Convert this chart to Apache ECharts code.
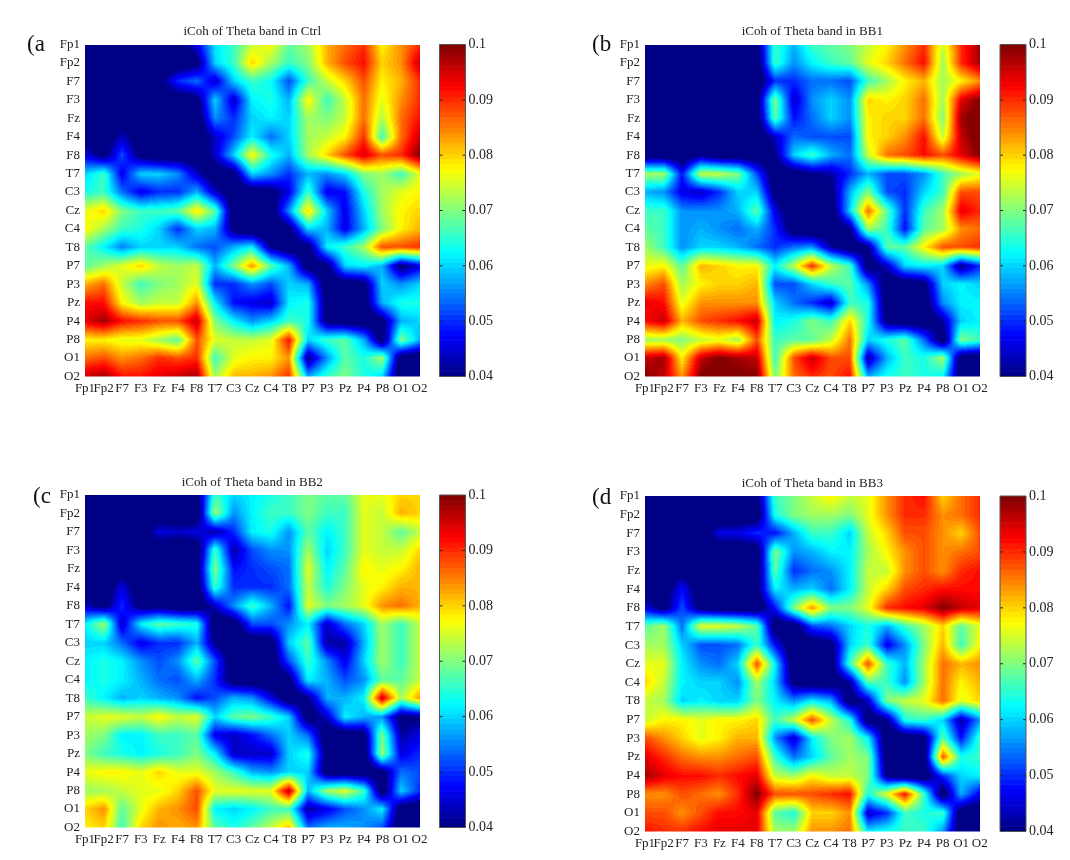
<!DOCTYPE html>
<html><head><meta charset="utf-8">
<style>html,body{margin:0;padding:0;background:#fff}#c{width:1070px;height:860px;filter:blur(0.5px)}</style>
<script src="https://cdn.jsdelivr.net/npm/echarts@6/dist/echarts.min.js"></script>
</head><body><div id="c"></div>
<script>
const channels = ['Fp1','Fp2','F7','F3','Fz','F4','F8','T7','C3','Cz','C4','T8','P7','P3','Pz','P4','P8','O1','O2'];
const colorbarTicks = [0.04,0.05,0.06,0.07,0.08,0.09,0.1];
// iCoh values in thousandths; rows Fp1..O2, columns Fp1..O2
const ctrl = [
[35,35,35,35,35,36,46,61,66,74,77,68,72,82,86,90,78,84,90],
[35,35,35,35,35,35,38,60,66,80,72,66,70,82,88,92,80,84,96],
[35,35,35,35,38,50,54,44,60,66,63,52,66,74,80,88,78,82,90],
[35,35,35,35,35,35,38,60,44,62,64,58,78,66,74,86,76,84,90],
[35,35,35,35,35,35,35,56,50,60,62,60,72,70,74,86,73,86,92],
[35,35,44,35,35,35,35,44,52,62,54,60,72,74,78,90,66,86,96],
[46,38,52,38,35,36,35,44,60,78,64,58,72,80,88,95,88,90,100],
[60,66,46,60,60,56,44,35,38,60,56,50,58,56,60,70,72,66,76],
[64,66,54,46,50,50,58,44,35,36,38,46,66,46,48,64,72,76,78],
[76,80,70,66,66,68,79,68,35,33,36,56,80,60,46,60,72,78,80],
[78,72,66,64,60,50,60,58,38,33,33,38,60,58,46,58,70,78,82],
[68,62,55,60,60,60,54,52,58,62,40,35,38,62,66,72,88,88,90],
[68,72,76,80,74,72,74,58,70,84,68,58,36,38,60,62,58,38,46],
[82,86,74,66,70,72,76,50,50,56,52,60,58,35,36,38,60,56,60],
[92,92,78,72,74,74,84,62,48,46,44,62,64,38,35,36,58,64,64],
[94,98,92,90,88,88,96,70,62,56,60,66,64,38,36,35,38,58,60],
[78,78,76,76,72,68,88,76,74,74,76,92,60,66,68,58,36,70,58],
[86,88,84,86,90,88,90,66,76,78,78,84,40,56,68,64,72,36,35],
[96,98,92,92,94,96,98,72,82,82,84,90,58,66,70,64,60,34,34]];
const bb1 = [
[35,35,35,35,35,35,38,66,58,66,68,70,74,78,84,90,74,90,98],
[35,35,35,35,35,35,35,66,56,62,66,68,76,80,86,92,72,90,98],
[35,35,35,35,35,35,35,50,50,54,54,52,66,72,78,82,72,78,84],
[35,35,35,35,35,35,38,70,44,56,60,56,80,78,80,86,72,94,100],
[35,35,35,35,35,35,35,68,48,54,60,56,78,80,80,86,70,98,102],
[35,35,35,35,35,35,35,44,54,52,52,52,78,80,84,92,74,96,102],
[35,35,35,40,35,35,35,40,60,66,58,54,74,86,88,92,88,94,100],
[72,72,48,74,74,70,52,35,36,40,42,50,58,52,52,56,66,72,76],
[58,56,46,44,50,60,60,38,35,35,38,58,70,52,50,60,66,88,88],
[66,66,56,56,56,58,68,46,35,33,35,60,86,68,50,66,72,94,90],
[68,66,56,58,56,54,58,50,36,33,35,40,72,66,48,68,72,84,86],
[72,66,56,60,60,58,54,50,54,56,42,35,40,68,68,78,88,88,90],
[76,78,68,82,80,78,78,62,74,90,74,66,36,44,60,62,60,40,50],
[84,88,72,78,80,80,82,52,52,60,66,68,56,35,35,38,60,62,60],
[94,92,76,84,84,84,84,60,54,50,44,66,64,36,35,35,56,62,62],
[92,96,82,88,90,92,96,62,64,70,66,80,64,38,35,35,42,60,62],
[72,72,70,74,76,72,88,66,68,68,74,86,60,64,68,54,35,70,66],
[96,98,78,96,100,98,96,66,88,96,88,88,42,58,66,64,72,36,35],
[100,96,84,100,102,100,100,70,86,90,88,92,58,64,66,64,62,36,35]];
const bb2 = [
[35,35,35,35,35,35,38,66,60,62,64,66,70,68,68,76,76,80,80],
[35,35,35,35,35,35,35,72,56,62,66,66,70,66,66,76,74,82,80],
[35,35,35,35,46,44,46,42,50,62,64,56,68,62,66,76,74,68,74],
[35,35,35,35,35,35,35,66,42,52,56,56,72,60,66,76,74,74,80],
[35,35,36,35,35,35,38,70,48,50,52,54,76,62,68,78,76,78,82],
[35,35,46,35,35,35,35,66,50,50,50,54,74,64,70,76,78,82,82],
[44,38,50,38,38,35,35,44,56,66,58,48,76,70,72,76,84,86,82],
[62,72,44,62,68,66,64,35,36,52,52,56,62,44,54,60,72,66,74],
[60,60,54,46,50,50,58,40,35,35,36,60,68,42,42,58,72,66,74],
[62,64,62,56,52,56,68,52,35,33,36,52,66,56,46,60,72,66,74],
[62,64,62,58,54,52,58,50,36,35,35,38,62,58,52,56,68,68,74],
[66,62,58,60,58,56,48,52,58,56,46,35,40,58,58,62,96,72,84],
[74,76,76,74,78,74,76,60,68,70,66,60,36,44,62,58,56,38,40],
[72,70,62,62,66,66,68,46,44,48,54,60,54,35,35,38,70,42,46],
[70,66,64,62,64,66,70,62,44,44,44,60,64,38,35,35,72,46,50],
[76,78,78,76,80,76,76,72,66,58,56,60,60,36,35,35,38,54,52],
[72,72,74,76,76,80,88,76,76,76,76,97,58,72,76,66,35,60,50],
[80,84,68,76,82,84,88,62,60,62,66,66,42,46,52,56,62,36,35],
[78,80,66,80,84,82,84,68,64,68,74,82,54,58,58,56,52,35,35]];
const bb3 = [
[35,35,35,35,35,35,38,66,70,74,78,74,76,84,90,92,80,86,90],
[35,35,35,35,35,35,35,64,70,72,72,70,76,84,90,90,84,86,90],
[35,35,35,35,46,46,50,48,58,66,66,60,74,80,88,88,84,80,88],
[35,35,35,35,35,35,35,70,56,58,62,62,72,78,84,88,84,86,88],
[35,35,38,35,35,35,36,68,50,54,56,62,74,74,84,88,84,90,92],
[36,36,48,35,35,35,38,62,58,60,54,62,74,80,88,90,92,92,92],
[46,38,52,38,36,35,35,48,70,84,70,70,76,90,92,94,100,96,94],
[68,72,54,76,76,74,68,35,36,52,54,60,64,58,66,72,80,68,76],
[72,72,60,52,52,54,66,48,35,35,38,60,66,46,56,70,82,66,78],
[76,76,62,56,54,60,88,62,35,33,36,66,88,66,58,72,86,82,84],
[80,74,62,60,60,56,72,60,38,35,35,42,68,66,56,72,86,78,82],
[74,72,60,62,60,60,70,62,56,62,58,36,44,70,74,76,86,76,80],
[74,78,78,76,78,78,80,66,74,88,74,64,36,40,64,66,60,42,56],
[88,84,80,76,78,82,82,56,44,62,70,72,62,35,35,38,68,48,66],
[94,90,86,84,84,86,88,66,54,60,68,72,70,36,35,36,88,64,66],
[98,94,92,92,90,92,94,74,72,78,74,74,70,40,35,35,50,60,62],
[84,84,88,86,84,90,100,88,88,88,90,92,64,76,92,66,35,58,46],
[88,88,84,88,92,92,94,68,64,80,80,84,44,50,66,64,66,35,35],
[92,90,90,92,94,94,94,72,72,84,84,86,62,64,66,66,56,36,35]];

const panels = [
 {title:'iCoh of Theta band in Ctrl', tag:'(a', values:ctrl, left:85,  top:44.5, w:334.5, h:332, tagX:27,  tagY:33, titleTop:25, cbLeft:439.5},
 {title:'iCoh of Theta band in BB1',  tag:'(b', values:bb1,  left:645, top:44.5, w:334.7, h:332, tagX:592, tagY:33, titleTop:25, cbLeft:1000},
 {title:'iCoh of Theta band in BB2',  tag:'(c', values:bb2,  left:85,  top:495,  w:334.5, h:332.5, tagX:33,  tagY:485, titleTop:476, cbLeft:439.5},
 {title:'iCoh of Theta band in BB3',  tag:'(d', values:bb3,  left:645, top:496,  w:334.7, h:335.5, tagX:592, tagY:486, titleTop:477, cbLeft:1000}
];

const FONT = '"Liberation Serif","Times New Roman",serif';
const INK = '#222';
const VMIN = 40, VMAX = 100;
function jet(t){ // t in 0..1, MATLAB jet
  const f = x => Math.max(0, Math.min(1, x));
  const r = f(Math.min(4*t-1.5, -4*t+4.5));
  const g = f(Math.min(4*t-0.5, -4*t+3.5));
  const b = f(Math.min(4*t+0.5, -4*t+2.5));
  return [r*255|0, g*255|0, b*255|0];
}
function colorOf(v){
  const t = Math.max(0, Math.min(1, (v-VMIN)/(VMAX-VMIN)));
  const lvl = Math.min(63, Math.floor(t*64));
  return jet((lvl+0.5)/64);
}
// shade one cell between four readings of the matrix
function cellImage(w,h,a,b,c,d){
  const cv = document.createElement('canvas');
  cv.width = Math.max(1,w); cv.height = Math.max(1,h);
  const ctx = cv.getContext('2d');
  const im = ctx.createImageData(cv.width, cv.height);
  for(let y=0;y<cv.height;y++){
    const v = (y+0.5)/cv.height;
    for(let x=0;x<cv.width;x++){
      const u = (x+0.5)/cv.width;
      const val = a*(1-u)*(1-v)+b*u*(1-v)+c*(1-u)*v+d*u*v;
      const col = colorOf(val), i = (y*cv.width+x)*4;
      im.data[i]=col[0]; im.data[i+1]=col[1]; im.data[i+2]=col[2]; im.data[i+3]=255;
    }
  }
  ctx.putImageData(im,0,0);
  return cv;
}
const grid=[], xAxis=[], yAxis=[], series=[], title=[];
panels.forEach((p,k)=>{
  const gi = grid.length;
  grid.push({left:p.left, top:p.top, width:p.w, height:p.h, containLabel:false});
  xAxis.push({type:'category', gridIndex:gi, data:channels, boundaryGap:false,
    axisLine:{show:false}, axisTick:{show:false}, splitLine:{show:false},
    axisLabel:{interval:0, margin:6, fontFamily:FONT, fontSize:13, color:INK, hideOverlap:false}});
  yAxis.push({type:'category', gridIndex:gi, data:channels, boundaryGap:false, inverse:true,
    axisLine:{show:false}, axisTick:{show:false}, splitLine:{show:false},
    axisLabel:{interval:0, margin:5, fontFamily:FONT, fontSize:13, color:INK, hideOverlap:false}});
  const data=[];
  p.values.forEach((row,r)=>row.forEach((v,c)=>data.push([c,r,v/1000])));
  series.push({type:'custom', name:p.title, xAxisIndex:gi, yAxisIndex:gi, data, silent:true,
    animation:false, clip:true,
    renderItem:(params,api)=>{
      const c=api.value(0), r=api.value(1);
      if(c>=18||r>=18) return null;
      const m=p.values;
      const p0=api.coord([c,r]), p1=api.coord([c+1,r+1]);
      const x0=Math.round(p0[0]), x1=Math.round(p1[0]), y0=Math.round(p0[1]), y1=Math.round(p1[1]);
      return {type:'image', style:{image:cellImage(x1-x0,y1-y0,m[r][c],m[r][c+1],m[r+1][c],m[r+1][c+1]), x:x0,y:y0,width:x1-x0,height:y1-y0}};
    }});
  // colour bar
  const gb = grid.length;
  grid.push({left:p.cbLeft, top:p.top, width:26, height:p.h, containLabel:false});
  xAxis.push({type:'value', gridIndex:gb, min:0, max:1, show:false});
  yAxis.push({type:'value', gridIndex:gb, min:0.04, max:0.1, interval:0.01, position:'right',
    axisLine:{show:false}, splitLine:{show:false},
    axisTick:{show:false},
    axisLabel:{margin:3, fontFamily:FONT, fontSize:14, color:INK, showMinLabel:true, showMaxLabel:true,
      formatter:v=>String(+(+v).toFixed(2))}});
  series.push({type:'custom', xAxisIndex:gb, yAxisIndex:gb, silent:true, animation:false, z:1, clip:false,
    data:[[0,0.04,1,0.1]],
    renderItem:(params,api)=>{
      const kids=[];
      const pa=api.coord([0,0.04]), pb=api.coord([1,0.1]);
      const x=pa[0], w=pb[0]-pa[0], H=pa[1]-pb[1];
      for(let i=0;i<64;i++){
        const col=jet((i+0.5)/64);
        const yTop=pa[1]-(i+1)/64*H;
        kids.push({type:'rect', shape:{x:x,y:yTop,width:w,height:H/64+(i?0.6:0)}, style:{fill:'rgb('+col.join(',')+')'}});
      }
      colorbarTicks.slice(1,-1).forEach(t=>{
        const q=api.coord([0,t]);
        kids.push({type:'line', shape:{x1:x,y1:q[1],x2:x+3,y2:q[1]}, style:{stroke:'#222',lineWidth:1}});
        kids.push({type:'line', shape:{x1:x+w-3,y1:q[1],x2:x+w,y2:q[1]}, style:{stroke:'#222',lineWidth:1}});
      });
      kids.push({type:'rect', shape:{x:x,y:pb[1],width:w,height:H}, style:{fill:'none',stroke:'#555',lineWidth:1}});
      return {type:'group', children:kids};
    }});
  title.push({text:p.title, left:p.left+p.w/2, top:p.titleTop, padding:0, textAlign:'center',
    textStyle:{fontFamily:FONT, fontSize:13, fontWeight:'normal', color:INK}});
  title.push({text:p.tag, left:p.tagX, top:p.tagY, padding:0,
    textStyle:{fontFamily:FONT, fontSize:23, fontWeight:'normal', color:'#111'}});
});
const chart = echarts.init(document.getElementById('c'), null, {renderer:'canvas', width:1070, height:860});
chart.setOption({animation:false, backgroundColor:'#fff', title, grid, xAxis, yAxis, series});
</script>
</body></html>
